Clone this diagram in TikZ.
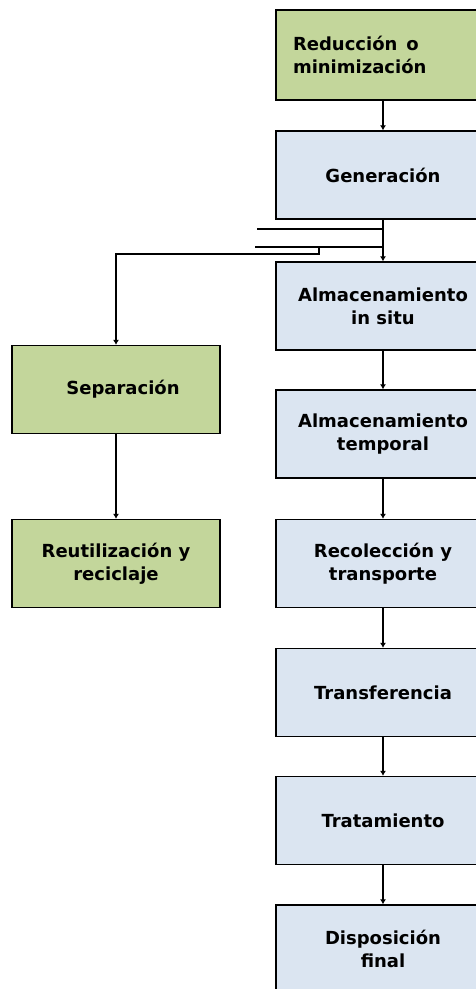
\documentclass[tikz,border=0pt]{standalone}
\usepackage{fontspec}
\setmainfont{DejaVu Sans}
\usetikzlibrary{arrows.meta}
\definecolor{verde}{HTML}{C3D69B}
\definecolor{azul}{HTML}{DBE5F1}
\begin{document}
\begin{tikzpicture}[x=1pt,y=-1pt,
  caja/.style={draw=black, line width=1.3pt, minimum height=88pt, inner xsep=0pt,
    font=\bfseries\fontsize{18}{23}\selectfont, align=center},
  der/.style={caja, fill=azul, minimum width=214pt},
  izq/.style={caja, fill=verde, minimum width=208pt},
  flecha/.style={line width=1.4pt, -{Latex[length=5pt,width=6pt]}}]
\useasboundingbox (0,0) rectangle (476,989);
\clip (0,0) rectangle (476,989);
\node[caja, fill=verde, text width=180pt, inner xsep=17pt, align=left, minimum height=90pt](red) at (383,55) {Reducción\, o\\minimización};
\node[der](gen) at (383,175) {Generación};
\node[der](insitu) at (383,306) {Almacenamiento\\in situ};
\node[der](temporal) at (383,434) {Almacenamiento\\temporal};
\node[der](recol) at (383,563.5) {Recolección y\\transporte};
\node[der](transf) at (383,692.5) {Transferencia};
\node[der](trat) at (383,820.5) {Tratamiento};
\node[der](disp) at (383,949) {Disposición\\final};
\node[izq](sep) at (116,389.5) {\hspace*{14pt}Separación};
\node[izq](reut) at (116,563.5) {Reutilización y\\reciclaje};
%
\coordinate(s1) at (257,229);
\coordinate(s2) at (255,247);
\coordinate(k) at (319,247);
\draw[line width=1.4pt](s1) -- (s1 -| gen.south);
\draw[line width=1.4pt](s2) -- (s2 -| gen.south);
\draw[flecha](k) -- ++(0,7) -| (sep.north);
%
\draw[flecha](red) -- (gen);
\draw[flecha](gen) -- (insitu);
\draw[flecha](insitu) -- (temporal);
\draw[flecha](temporal) -- (recol);
\draw[flecha](recol) -- (transf);
\draw[flecha](transf) -- (trat);
\draw[flecha](trat) -- (disp);
\draw[flecha](sep) -- (reut);
\end{tikzpicture}
\end{document}
